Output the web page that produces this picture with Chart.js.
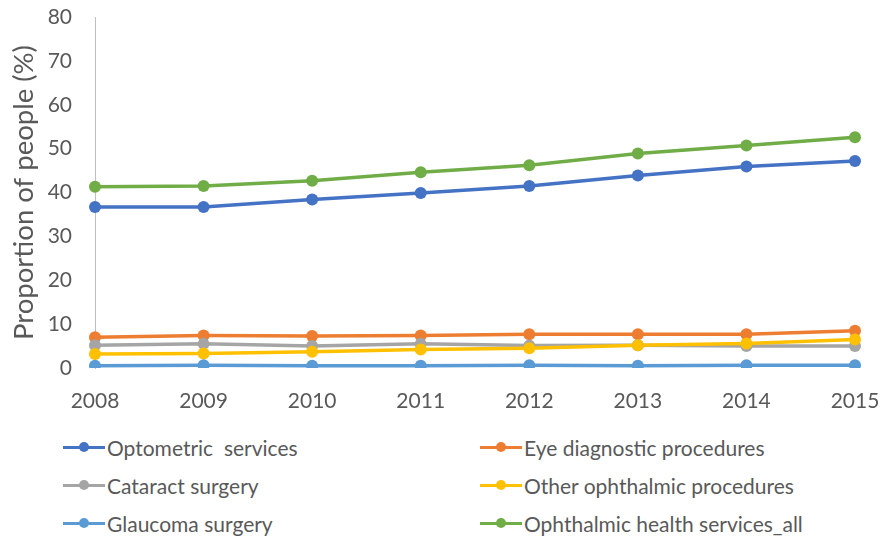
<!DOCTYPE html>
<html lang="en">
<head>
  <meta charset="UTF-8" />
  <title>Ophthalmic services 2008-2015</title>
  <style>
    body {
      margin: 0;
      background: #ffffff;
      font-family: Lato, "Liberation Sans", sans-serif;
    }
    #wrap {
      position: relative;
      width: 880px;
      height: 542px;
    }
    #legend {
      position: absolute;
      left: 0;
      top: 428px;
      width: 880px;
    }
    .row {
      position: relative;
      height: 38px;
    }
    .item {
      position: absolute;
      top: 0;
      height: 38px;
      display: flex;
      align-items: center;
      color: #595959;
      font-size: 21px;
      white-space: pre;
    }
    .swatch {
      position: relative;
      width: 42px;
      height: 12px;
      margin-right: 2px;
    }
    .swatch .ln {
      position: absolute;
      left: 0;
      top: 4.5px;
      width: 42px;
      height: 3px;
    }
    .swatch .dot {
      position: absolute;
      left: 16px;
      top: 1px;
      width: 10px;
      height: 10px;
      border-radius: 50%;
    }
  </style>
</head>
<body>
  <div id="wrap">
    <canvas id="chart" width="880" height="420"></canvas>
    <div id="legend"></div>
  </div>

  <script src="https://cdn.jsdelivr.net/npm/chart.js"></script>
  <script>
    const years = ["2008", "2009", "2010", "2011", "2012", "2013", "2014", "2015"];

    const optometric = [36.7, 36.7, 38.4, 39.9, 41.5, 43.9, 45.9, 47.2];
    const eyeDiagnostic = [7.0, 7.4, 7.3, 7.4, 7.7, 7.7, 7.7, 8.5];
    const cataract = [5.2, 5.5, 5.0, 5.5, 5.1, 5.2, 5.0, 5.0];
    const otherOphthalmic = [3.2, 3.3, 3.7, 4.2, 4.5, 5.2, 5.6, 6.5];
    const glaucoma = [0.5, 0.6, 0.5, 0.5, 0.6, 0.5, 0.6, 0.6];
    const ophthalmicAll = [41.3, 41.5, 42.7, 44.6, 46.2, 48.9, 50.7, 52.6];

    const seriesNames = [
      "Optometric  services",
      "Eye diagnostic procedures",
      "Cataract surgery",
      "Other ophthalmic procedures",
      "Glaucoma surgery",
      "Ophthalmic health services_all"
    ];
    const seriesData = [optometric, eyeDiagnostic, cataract, otherOphthalmic, glaucoma, ophthalmicAll];
    const seriesColors = ["#4472C4", "#ED7D31", "#A5A5A5", "#FFC000", "#5B9BD5", "#70AD47"];

    const textColor = "#595959";
    const fontFamily = "Lato, 'Liberation Sans', sans-serif";

    // later series are drawn on top, as in the original
    const datasets = seriesNames.map((name, i) => ({
      label: name,
      data: seriesData[i],
      borderColor: seriesColors[i],
      backgroundColor: seriesColors[i],
      borderWidth: 3.5,
      pointRadius: 6,
      pointHoverRadius: 6,
      pointBorderWidth: 0,
      tension: 0,
      order: 6 - i
    }));

    const ctx = document.getElementById("chart").getContext("2d");
    new Chart(ctx, {
      type: "line",
      data: { labels: years, datasets },
      options: {
        responsive: false,
        animation: false,
        layout: {
          padding: { top: 17, right: 25, bottom: 0, left: 0 }
        },
        plugins: {
          legend: { display: false },
          tooltip: { enabled: false }
        },
        scales: {
          x: {
            grid: { display: false },
            border: { display: false },
            ticks: {
              color: textColor,
              font: { family: fontFamily, size: 21 },
              padding: 13,
              maxRotation: 0
            },
            afterFit: scale => {
              scale.height = 52;
              scale.paddingLeft = 0;
              scale.paddingRight = 0;
            }
          },
          y: {
            min: 0,
            max: 80,
            grid: { display: false },
            border: { display: true, color: "#BFBFBF", width: 1 },
            ticks: {
              stepSize: 10,
              color: textColor,
              font: { family: fontFamily, size: 21 },
              padding: 15
            },
            title: {
              display: true,
              text: "Proportion of people (%)",
              color: textColor,
              font: { family: fontFamily, size: 27.5 },
              padding: { top: 8, bottom: 0 }
            },
            afterFit: scale => {
              scale.width = 95;
              scale.paddingTop = 0;
              scale.paddingBottom = 0;
            }
          }
        }
      }
    });

    // legend: two columns, three rows
    const legendDiv = document.getElementById("legend");
    const colLeft = [63, 480];
    for (let r = 0; r < 3; r++) {
      const row = document.createElement("div");
      row.className = "row";
      for (let c = 0; c < 2; c++) {
        const i = r * 2 + c;
        const item = document.createElement("div");
        item.className = "item";
        item.style.left = colLeft[c] + "px";
        item.innerHTML = `
          <span class="swatch">
            <span class="ln" style="background:${seriesColors[i]}"></span>
            <span class="dot" style="background:${seriesColors[i]}"></span>
          </span>`;
        const label = document.createElement("span");
        label.textContent = seriesNames[i];
        item.appendChild(label);
        row.appendChild(item);
      }
      legendDiv.appendChild(row);
    }
  </script>
</body>
</html>
